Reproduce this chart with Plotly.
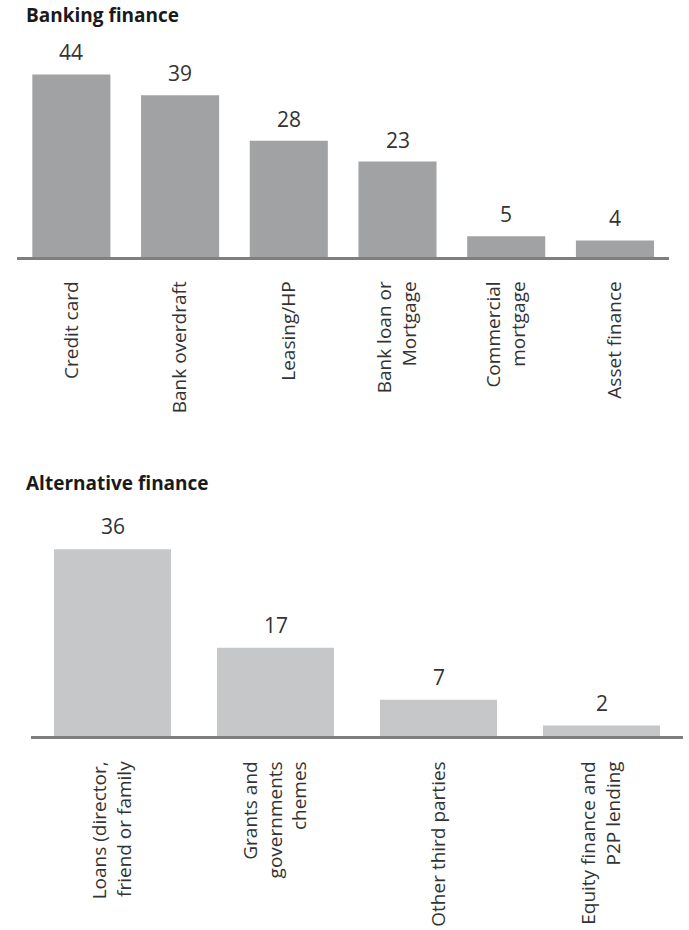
import plotly.graph_objects as go

# ---- data ----
bank_categories = ["Credit card", "Bank overdraft", "Leasing/HP",
                   "Bank loan or<br>Mortgage", "Commercial<br>mortgage", "Asset finance"]
bank_values = [44, 39, 28, 23, 5, 4]

alt_categories = ["Loans (director,<br>friend or family", "Grants and<br>governments<br>chemes",
                  "Other third parties", "Equity finance and<br>P2P lending"]
alt_values = [36, 17, 7, 2]

title_top = "Banking finance"
title_bottom = "Alternative finance"

W, H = 689, 930
FONT = "Open Sans"
BAR_TOP_COLOR = "#a1a2a4"
BAR_BOT_COLOR = "#c6c7c9"
AXIS_COLOR = "#7f7f7f"
TEXT_COLOR = "#333333"

def py(px):  # pixel from top -> paper fraction
    return 1 - px / H

def pxx(px):
    return px / W

fig = go.Figure()

fig.add_trace(go.Bar(x=bank_categories, y=bank_values, marker_color=BAR_TOP_COLOR,
                     marker_line_width=0, xaxis="x", yaxis="y", hoverinfo="skip"))
fig.add_trace(go.Bar(x=alt_categories, y=alt_values, marker_color=BAR_BOT_COLOR,
                     marker_line_width=0, xaxis="x2", yaxis="y2", hoverinfo="skip"))

annotations = []
for c, v in zip(bank_categories, bank_values):
    annotations.append(dict(x=c, y=v, xref="x", yref="y", text=str(v), showarrow=False,
                            yanchor="bottom", yshift=6,
                            font=dict(family=FONT, size=21, color=TEXT_COLOR)))
for c, v in zip(alt_categories, alt_values):
    annotations.append(dict(x=c, y=v, xref="x2", yref="y2", text=str(v), showarrow=False,
                            yanchor="bottom", yshift=7,
                            font=dict(family=FONT, size=21, color=TEXT_COLOR)))

annotations.append(dict(x=pxx(24), y=py(0), xref="paper", yref="paper", text="<b>" + title_top + "</b>",
                        showarrow=False, xanchor="left", yanchor="top",
                        font=dict(family=FONT, size=19, color="#1a1a1a")))
annotations.append(dict(x=pxx(24), y=py(468), xref="paper", yref="paper", text="<b>" + title_bottom + "</b>",
                        showarrow=False, xanchor="left", yanchor="top",
                        font=dict(family=FONT, size=19, color="#1a1a1a")))

top_base, top_scale, top_max = 257, 4.15, 50
bot_base, bot_scale, bot_max = 736, 5.19, 40

axis_common = dict(showgrid=False, zeroline=False, showline=True, linecolor=AXIS_COLOR,
                   linewidth=2.5, ticks="", tickangle=-90, type="category",
                   tickfont=dict(family=FONT, size=19, color=TEXT_COLOR), fixedrange=True)

fig.update_layout(
    width=W, height=H,
    margin=dict(l=0, r=0, t=0, b=0),
    paper_bgcolor="white", plot_bgcolor="white",
    showlegend=False, bargap=0.282,
    xaxis=dict(domain=[pxx(17), pxx(669.3)], anchor="y", range=[-0.5, 5.5],
               ticklabelstandoff=14, **axis_common),
    yaxis=dict(domain=[py(top_base), py(top_base - top_scale * top_max)], anchor="x",
               range=[0, top_max], visible=False, fixedrange=True),
    xaxis2=dict(domain=[pxx(31), pxx(683)], anchor="y2", range=[-0.5, 3.5],
                ticklabelstandoff=15, **axis_common),
    yaxis2=dict(domain=[py(bot_base), py(bot_base - bot_scale * bot_max)], anchor="x2",
                range=[0, bot_max], visible=False, fixedrange=True),
    annotations=annotations,
)

fig.write_html("out.html")
